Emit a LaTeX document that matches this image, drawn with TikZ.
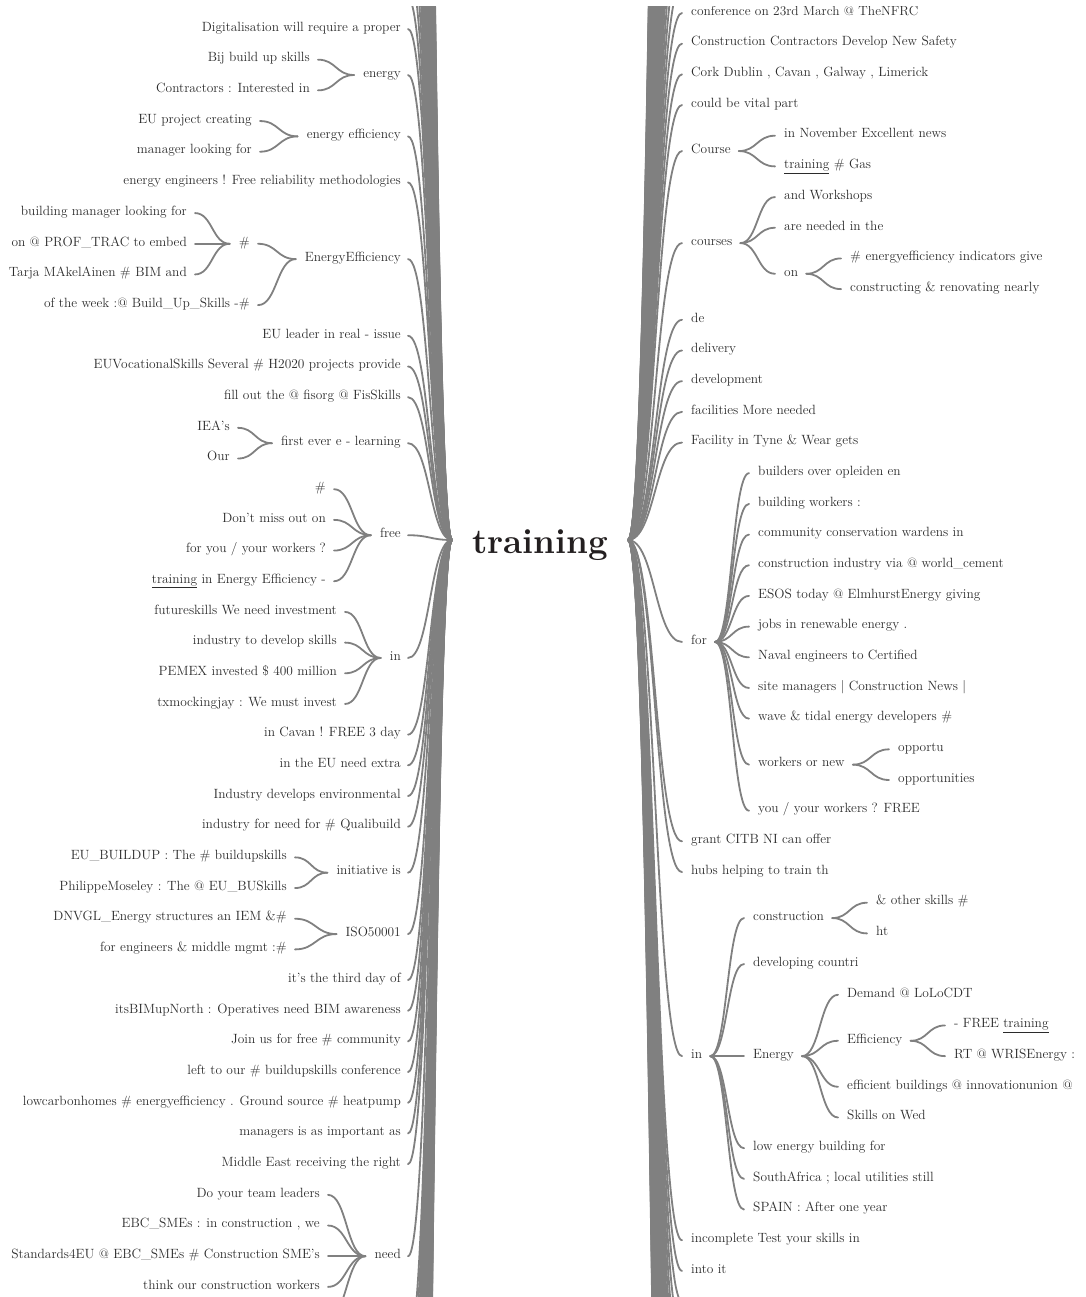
\documentclass[tikz,border=0pt]{standalone}
\usepackage{fontspec}
\usetikzlibrary{calc,positioning}
\definecolor{twiggray}{HTML}{808080}
\definecolor{wordink}{HTML}{2B2B2B}
\definecolor{rootink}{HTML}{231F20}

\newcommand\uword[1]{\underline{#1}}
\newcommand\twig[2]{\draw[twig] let \p1=(#1), \p2=(#2) in
  (\p1) .. controls ({(\x1+\x2)/2},\y1) and ({(\x1+\x2)/2},\y2) .. (\p2);}
\newcommand\link[2]{\twig{[xshift=8pt]#1.east}{[xshift=-9pt]#2.west}}

\begin{document}
\begin{tikzpicture}[
  x=1pt, y=-30.68pt,
  word/.style={inner sep=0pt,text height=.7em,text depth=.25em,text=wordink,font=\fontsize{13.4pt}{16pt}\selectfont},
  lw/.style={word,anchor=east},
  rw/.style={word,anchor=west},
  twig/.style={draw=twiggray,line width=1.8pt,line cap=round}
]
\useasboundingbox (0pt,0pt) rectangle (1085pt,-1297pt);
\clip (0pt,-7pt) rectangle (1085pt,-1297pt);

\node[anchor=base,inner sep=0pt,text=rootink,font=\fontsize{35pt}{40pt}\selectfont\bfseries] (root) at (540pt,-553pt) {training};
\coordinate (rootL) at (452pt,-540pt);
\coordinate (rootR) at (628pt,-540pt);

\begin{scope}[yshift=-29pt]
\node[lw] (digit) at (401,0) {Digitalisation will require a proper};
\node[lw] (energy) at (401,1.5) {energy};
  \node[lw] (bij) at (310,1) {Bij build up skills};
  \node[lw] (contr) at (310,2) {Contractors : Interested in};
\node[lw] (eneff) at (401,3.5) {energy efficiency};
  \node[lw] (euproj) at (252,3) {EU project creating};
  \node[lw] (manager) at (252,4) {manager looking for};
\node[lw] (eneng) at (401,5) {energy engineers ! Free reliability methodologies};
\node[lw] (EE) at (401,7.5) {EnergyEfficiency};
  \node[lw] (hash) at (250,7) {\#};
    \node[lw] (bldman) at (187,6) {building manager looking for};
    \node[lw] (proftrac) at (187,7) {on @ PROF\_TRAC to embed};
    \node[lw] (tarja) at (187,8) {Tarja MAkelAinen \# BIM and};
  \node[lw] (week) at (250,9) {of the week :@ Build\_Up\_Skills -\#};
\node[lw] (euleader) at (401,10) {EU leader in real - issue};
\node[lw] (euvoc) at (401,11) {EUVocationalSkills Several \# H2020 projects provide};
\node[lw] (fisorg) at (401,12) {fill out the @ fisorg @ FisSkills};
\node[lw] (firstever) at (401,13.5) {first ever e - learning};
  \node[lw] (iea) at (230,13) {IEA's};
  \node[lw] (our) at (230,14) {Our};
\node[lw] (free) at (401,16.5) {free};
  \node[lw] (free1) at (326,15) {\#};
  \node[lw] (free2) at (326,16) {Don't miss out on};
  \node[lw] (free3) at (326,17) {for you / your workers ?};
  \node[lw] (free4) at (326,18) {\uword{training} in Energy Efficiency -};
\node[lw] (inL) at (401,20.5) {in};
  \node[lw] (in1) at (337,19) {futureskills We need investment};
  \node[lw] (in2) at (337,20) {industry to develop skills};
  \node[lw] (in3) at (337,21) {PEMEX invested \$ 400 million};
  \node[lw] (in4) at (337,22) {txmockingjay : We must invest};
\node[lw] (cavan) at (401,23) {in Cavan ! FREE 3 day};
\node[lw] (extra) at (401,24) {in the EU need extra};
\node[lw] (envir) at (401,25) {Industry develops environmental};
\node[lw] (quali) at (401,26) {industry for need for \# Qualibuild};
\node[lw] (initiative) at (401,27.5) {initiative is};
  \node[lw] (buildup) at (287,27) {EU\_BUILDUP : The \# buildupskills};
  \node[lw] (moseley) at (287,28) {PhilippeMoseley : The @ EU\_BUSkills};
\node[lw] (iso) at (401,29.5) {ISO50001};
  \node[lw] (dnvgl) at (287,29) {DNVGL\_Energy structures an IEM \&\#};
  \node[lw] (mgmt) at (287,30) {for engineers \& middle mgmt :\#};
\node[lw] (thirdday) at (401,31) {it's the third day of};
\node[lw] (bimup) at (401,32) {itsBIMupNorth : Operatives need BIM awareness};
\node[lw] (joinus) at (401,33) {Join us for free \# community};
\node[lw] (leftto) at (401,34) {left to our \# buildupskills conference};
\node[lw] (lowcarbon) at (401,35) {lowcarbonhomes \# energyefficiency . Ground source \# heatpump};
\node[lw] (managers) at (401,36) {managers is as important as};
\node[lw] (mideast) at (401,37) {Middle East receiving the right};
\node[lw] (need) at (401,40) {need};
  \node[lw] (need1) at (320,38) {Do your team leaders};
  \node[lw] (need2) at (320,39) {EBC\_SMEs : in construction , we};
  \node[lw] (need3) at (320,40) {Standards4EU @ EBC\_SMEs \# Construction SME's};
  \node[lw] (need4) at (320,41) {think our construction workers};
  \coordinate (need5) at (328,42);

\foreach \leaf in {digit,energy,eneff,eneng,EE,euleader,euvoc,fisorg,firstever,free,inL,cavan,extra,envir,quali,initiative,iso,thirdday,bimup,joinus,leftto,lowcarbon,managers,mideast,need}
  {\twig{[xshift=7pt]\leaf.east}{rootL}}
\foreach \a/\b in {bij/energy,contr/energy,euproj/eneff,manager/eneff,hash/EE,week/EE,bldman/hash,proftrac/hash,tarja/hash,iea/firstever,our/firstever,free1/free,free2/free,free3/free,free4/free,in1/inL,in2/inL,in3/inL,in4/inL,buildup/initiative,moseley/initiative,dnvgl/iso,mgmt/iso,need1/need,need2/need,need3/need,need4/need}
  {\link{\a}{\b}}
\twig{need5}{[xshift=-9pt]need.west}
\foreach \r in {1,...,45} {\twig{408,-\r}{rootL}}
\foreach \r in {43,...,78} {\twig{408,\r}{rootL}}
\end{scope}

\begin{scope}[yshift=-13pt]
\node[rw] (nfrc) at (691,0) {conference on 23rd March @ TheNFRC};
\node[rw] (safety) at (691,1) {Construction Contractors Develop New Safety};
\node[rw] (cork) at (691,2) {Cork Dublin , Cavan , Galway , Limerick};
\node[rw] (vital) at (691,3) {could be vital part};
\node[rw] (course) at (691,4.5) {Course};
  \node[rw] (november) at (784,4) {in November Excellent news};
  \node[rw] (gas) at (784,5) {\uword{training} \# Gas};
\node[rw] (courses) at (691,7.5) {courses};
  \node[rw] (workshops) at (784,6) {and Workshops};
  \node[rw] (needed) at (784,7) {are needed in the};
  \node[rw] (on) at (784,8.5) {on};
    \node[rw] (indicators) at (850,8) {\# energyefficiency indicators give};
    \node[rw] (nearly) at (850,9) {constructing \& renovating nearly};
\node[rw] (de) at (691,10) {de};
\node[rw] (delivery) at (691,11) {delivery};
\node[rw] (develop) at (691,12) {development};
\node[rw] (facilities) at (691,13) {facilities More needed};
\node[rw] (tyne) at (691,14) {Facility in Tyne \& Wear gets};
\node[rw] (for) at (691,20.5) {for};
  \node[rw] (for1) at (758,15) {builders over opleiden en};
  \node[rw] (for2) at (758,16) {building workers :};
  \node[rw] (for3) at (758,17) {community conservation wardens in};
  \node[rw] (for4) at (758,18) {construction industry via @ world\_cement};
  \node[rw] (for5) at (758,19) {ESOS today @ ElmhurstEnergy giving};
  \node[rw] (for6) at (758,20) {jobs in renewable energy .};
  \node[rw] (for7) at (758,21) {Naval engineers to Certified};
  \node[rw] (for8) at (758,22) {site managers | Construction News |};
  \node[rw] (for9) at (758,23) {wave \& tidal energy developers \#};
  \node[rw] (for10) at (758,24.5) {workers or new};
    \node[rw] (opp1) at (898,24) {opportu};
    \node[rw] (opp2) at (898,25) {opportunities};
  \node[rw] (for11) at (758,26) {you / your workers ? FREE};
\node[rw] (grant) at (691,27) {grant CITB NI can offer};
\node[rw] (hubs) at (691,28) {hubs helping to train th};
\node[rw] (inR) at (691,34) {in};
  \node[rw] (constr) at (753,29.5) {construction};
    \node[rw] (oskills) at (876,29) {\& other skills \#};
    \node[rw] (ht) at (876,30) {ht};
  \node[rw] (countri) at (753,31) {developing countri};
  \node[rw] (energyR) at (753,34) {Energy};
    \node[rw] (demand) at (847,32) {Demand @ LoLoCDT};
    \node[rw] (effic) at (847,33.5) {Efficiency};
      \node[rw] (freetr) at (954,33) {- FREE \uword{training}};
      \node[rw] (wris) at (954,34) {RT @ WRISEnergy :};
    \node[rw] (effbuild) at (847,35) {efficient buildings @ innovationunion @};
    \node[rw] (wed) at (847,36) {Skills on Wed};
  \node[rw] (lowen) at (753,37) {low energy building for};
  \node[rw] (safrica) at (753,38) {SouthAfrica ; local utilities still};
  \node[rw] (spain) at (753,39) {SPAIN : After one year};
\node[rw] (incomplete) at (691,40) {incomplete Test your skills in};
\node[rw] (intoit) at (691,41) {into it};

\foreach \leaf in {nfrc,safety,cork,vital,course,courses,de,delivery,develop,facilities,tyne,for,grant,hubs,inR,incomplete,intoit}
  {\twig{rootR}{[xshift=-9pt]\leaf.west}}
\foreach \a/\b in {course/november,course/gas,courses/workshops,courses/needed,courses/on,on/indicators,on/nearly,for/for1,for/for2,for/for3,for/for4,for/for5,for/for6,for/for7,for/for8,for/for9,for/for10,for/for11,for10/opp1,for10/opp2,inR/constr,inR/countri,inR/energyR,inR/lowen,inR/safrica,inR/spain,constr/oskills,constr/ht,energyR/demand,energyR/effic,energyR/effbuild,energyR/wed,effic/freetr,effic/wris}
  {\link{\a}{\b}}
\foreach \r in {1,...,45} {\twig{rootR}{682,-\r}}
\foreach \r in {42,...,80} {\twig{rootR}{682,\r}}
\end{scope}
\end{tikzpicture}
\end{document}
